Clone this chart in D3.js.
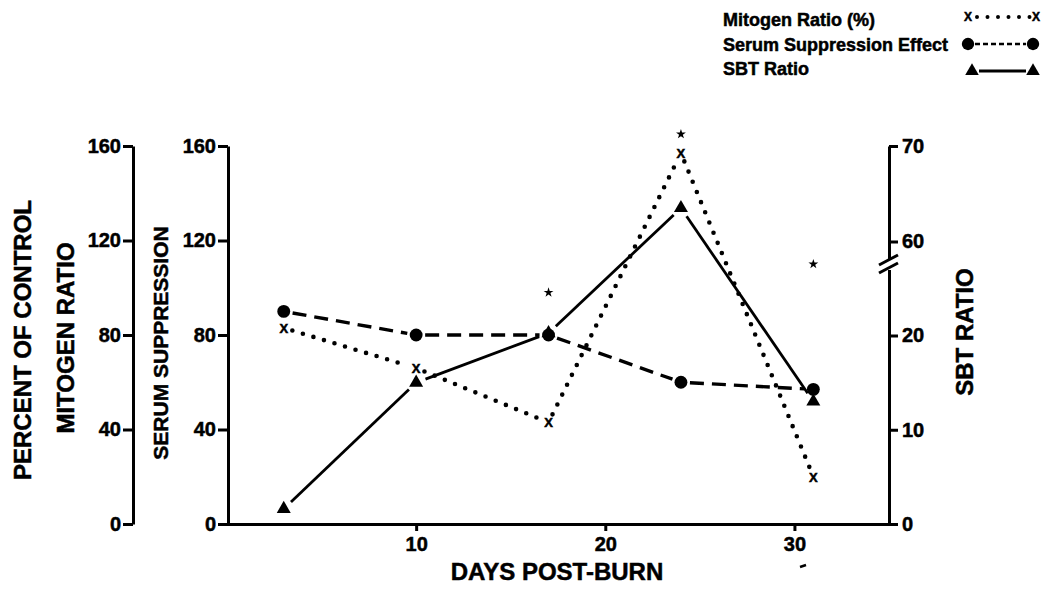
<!DOCTYPE html>
<html>
<head>
<meta charset="utf-8">
<title>Days post-burn</title>
<style>
  body { margin: 0; background: #fff; }
  svg text { font-family: "Liberation Sans", Arial, Helvetica, sans-serif; font-weight: bold; fill: #000; stroke: #000; stroke-width: 0.5px; }
  .axis path, .axis line { stroke: #000; stroke-width: 3; }
  .axis text { font-size: 20px; }
</style>
</head>
<body>
<script src="https://cdn.jsdelivr.net/npm/d3@7"></script>
<script>
// data
var days = [3, 10, 17, 24, 31];
var mitogenRatio = [83, 66, 43, 157, 20];        // left outer axis, % of control
var serumSuppression = [90, 80, 80, 60, 57];     // left inner axis
var sbtRatio = [1.6, 15, 21, 63.5, 13];          // right axis (broken)
var starDays = [17, 24, 31];
var starLevels = [98, 165, 110];                 // on the mitogen axis
var xTicks = [10, 20, 30];
var leftTicks = [0, 40, 80, 120, 160];
var sbtTicks = [0, 10, 20, 60, 70];
var legendLabels = ["Mitogen Ratio (%)", "Serum Suppression Effect", "SBT Ratio"];

var width = 1050, height = 592;

var svg = d3.select("body").append("svg")
    .attr("width", width)
    .attr("height", height);

var x = d3.scaleLinear().domain([0, 35]).range([227, 889]);
var y = d3.scaleLinear().domain([0, 160]).range([524, 146]);
// broken scale: 20 -> 60 is squeezed into one tick step
var ySbt = d3.scaleLinear().domain([0, 20, 60, 70]).range([524, 335.5, 241.5, 146]);

// axes
svg.append("g").attr("class", "axis")
    .attr("transform", "translate(133,0)")
    .call(d3.axisLeft(y).tickValues(leftTicks).tickSize(10).tickSizeOuter(0).tickPadding(2));

svg.append("g").attr("class", "axis")
    .attr("transform", "translate(228,0)")
    .call(d3.axisLeft(y).tickValues(leftTicks).tickSize(10).tickSizeOuter(0).tickPadding(2));

svg.append("g").attr("class", "axis")
    .attr("transform", "translate(0,524)")
    .call(d3.axisBottom(x).tickValues(xTicks).tickSize(7).tickSizeOuter(0).tickPadding(6));

var right = svg.append("g").attr("class", "axis")
    .attr("transform", "translate(889,0)")
    .call(d3.axisRight(ySbt).tickValues(sbtTicks).tickSize(9).tickSizeOuter(0).tickPadding(4));

svg.selectAll(".axis .domain").attr("fill", "none");

// axis break marks
right.append("rect").attr("x", -4).attr("y", 259).attr("width", 8).attr("height", 11).attr("fill", "#fff");
[0, 8].forEach(function(off) {
  right.append("line")
    .attr("x1", -10).attr("y1", 265 + off)
    .attr("x2", 9).attr("y2", 255 + off)
    .attr("stroke", "#000").attr("stroke-width", 2.5);
});

// axis titles
function vtitle(txt, cx, cy, size) {
  svg.append("text")
    .attr("transform", "translate(" + cx + "," + cy + ") rotate(-90)")
    .attr("text-anchor", "middle")
    .attr("font-size", size)
    .text(txt);
}
vtitle("PERCENT OF CONTROL", 31, 340, 24);
vtitle("MITOGEN RATIO", 74, 338, 24);
vtitle("SERUM SUPPRESSION", 168, 343, 21);
vtitle("SBT RATIO", 973, 332, 24);

svg.append("text")
  .attr("x", 557).attr("y", 580)
  .attr("text-anchor", "middle")
  .attr("font-size", 24)
  .text("DAYS POST-BURN");

// small stray mark below 30
svg.append("line").attr("x1", 800).attr("y1", 567).attr("x2", 806).attr("y2", 565)
  .attr("stroke", "#000").attr("stroke-width", 2.5);

// lines drawn as segments that stop short of the markers
function segments(vals, scaleY, gap) {
  var out = [];
  for (var i = 0; i < days.length - 1; i++) {
    var x1 = x(days[i]), y1 = scaleY(vals[i]), x2 = x(days[i + 1]), y2 = scaleY(vals[i + 1]);
    var len = Math.sqrt((x2 - x1) * (x2 - x1) + (y2 - y1) * (y2 - y1));
    var ux = (x2 - x1) / len, uy = (y2 - y1) / len;
    out.push([x1 + ux * gap, y1 + uy * gap, x2 - ux * gap, y2 - uy * gap]);
  }
  return out;
}

function drawSegs(segs, w, dash, cap) {
  svg.append("g").selectAll("line")
    .data(segs)
    .enter()
    .append("line")
    .attr("x1", function(d) { return d[0]; })
    .attr("y1", function(d) { return d[1]; })
    .attr("x2", function(d) { return d[2]; })
    .attr("y2", function(d) { return d[3]; })
    .attr("stroke", "#000")
    .attr("stroke-width", w)
    .attr("stroke-dasharray", dash)
    .attr("stroke-linecap", cap);
}

drawSegs(segments(sbtRatio, ySbt, 10), 2.8, null, "butt");
drawSegs(segments(serumSuppression, y, 9), 3.4, "14,8", "butt");
drawSegs(segments(mitogenRatio, y, 9), 4.6, "0,11", "round");

// markers
svg.append("g").selectAll("path")
  .data(days)
  .enter()
  .append("path")
  .attr("d", d3.symbol().type(d3.symbolCircle).size(130))
  .attr("transform", function(d, i) { return "translate(" + x(d) + "," + y(serumSuppression[i]) + ")"; });

svg.append("g").selectAll("path")
  .data(days)
  .enter()
  .append("path")
  .attr("d", d3.symbol().type(d3.symbolTriangle).size(85))
  .attr("transform", function(d, i) { return "translate(" + x(d) + "," + ySbt(sbtRatio[i]) + ")"; });

svg.append("g").selectAll("text")
  .data(days)
  .enter()
  .append("text")
  .attr("x", function(d) { return x(d); })
  .attr("y", function(d, i) { return y(mitogenRatio[i]) + 5; })
  .attr("text-anchor", "middle")
  .attr("font-size", 13)
  .text("X");

svg.append("g").selectAll("path")
  .data(starDays)
  .enter()
  .append("path")
  .attr("d", d3.symbol().type(d3.symbolStar).size(30))
  .attr("transform", function(d, i) { return "translate(" + x(d) + "," + y(starLevels[i]) + ")"; });

// legend
var legY = [26, 51, 75];
svg.append("g").selectAll("text")
  .data(legendLabels)
  .enter()
  .append("text")
  .attr("x", 723)
  .attr("y", function(d, i) { return legY[i]; })
  .attr("font-size", 18)
  .text(function(d) { return d; });

var lg = svg.append("g");
lg.append("line").attr("x1", 977).attr("x2", 1030).attr("y1", 17).attr("y2", 17)
  .attr("stroke", "#000").attr("stroke-width", 4).attr("stroke-dasharray", "0,10.5").attr("stroke-linecap", "round");
[968, 1036].forEach(function(cx) {
  lg.append("text").attr("x", cx).attr("y", 21).attr("text-anchor", "middle").attr("font-size", 12).text("X");
});
lg.append("line").attr("x1", 975).attr("x2", 1026).attr("y1", 44).attr("y2", 44)
  .attr("stroke", "#000").attr("stroke-width", 2.5).attr("stroke-dasharray", "5,3");
[968, 1033].forEach(function(cx) {
  lg.append("path").attr("d", d3.symbol().type(d3.symbolCircle).size(120)).attr("transform", "translate(" + cx + ",44)");
});
lg.append("line").attr("x1", 979).attr("x2", 1026).attr("y1", 71).attr("y2", 71)
  .attr("stroke", "#000").attr("stroke-width", 2.8);
[972, 1033].forEach(function(cx) {
  lg.append("path").attr("d", d3.symbol().type(d3.symbolTriangle).size(80)).attr("transform", "translate(" + cx + ",71)");
});
</script>
</body>
</html>
